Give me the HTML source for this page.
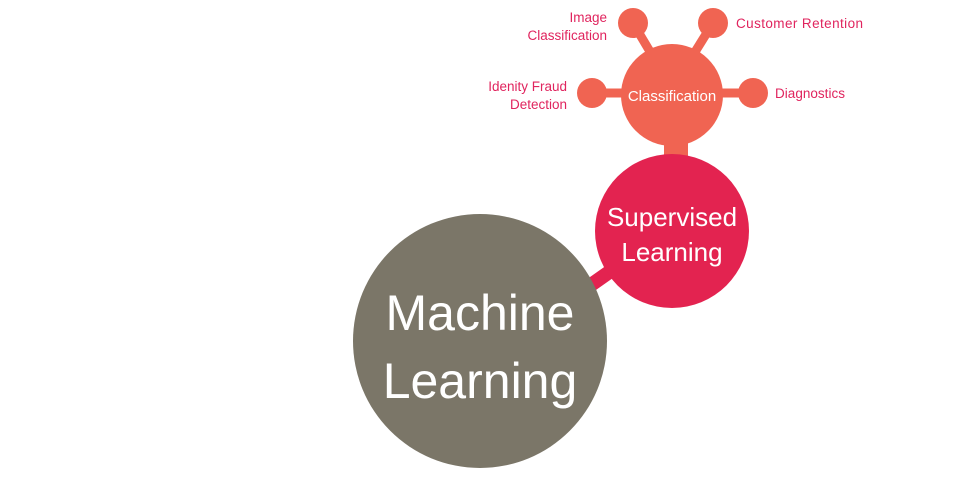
<!DOCTYPE html>
<html><head><meta charset="utf-8"><style>
html,body{margin:0;padding:0;background:#fff;}
svg{display:block;}
text{font-family:"Liberation Sans",sans-serif;}
</style></head><body>
<svg width="960" height="496" viewBox="0 0 960 496" xmlns="http://www.w3.org/2000/svg">
<line x1="588" y1="287" x2="615" y2="268" stroke="#e32350" stroke-width="14"/>
<rect x="664" y="130" width="24" height="30" fill="#f06452"/>
<g stroke="#f06452" stroke-width="9">
<line x1="633" y1="23" x2="655" y2="60"/>
<line x1="713" y1="23" x2="690" y2="60"/>
<line x1="592" y1="93" x2="640" y2="93"/>
<line x1="753" y1="93" x2="705" y2="93"/>
</g>
<g fill="#f06452">
<circle cx="633" cy="23" r="15"/>
<circle cx="713" cy="23" r="15"/>
<circle cx="592" cy="93" r="15"/>
<circle cx="753" cy="93" r="15"/>
<circle cx="672" cy="95" r="51"/>
</g>
<circle cx="672" cy="231" r="77" fill="#e32350"/>
<circle cx="480" cy="341" r="127" fill="#7b7668"/>
<text x="672" y="101" fill="#fff" font-size="15" text-anchor="middle">Classification</text>
<text x="672" y="226" fill="#fff" font-size="26" text-anchor="middle">Supervised</text>
<text x="672" y="261" fill="#fff" font-size="26" text-anchor="middle">Learning</text>
<text x="480" y="330" fill="#fff" font-size="50" text-anchor="middle">Machine</text>
<text x="480" y="398" fill="#fff" font-size="50" text-anchor="middle">Learning</text>
<g fill="#e0245e" font-size="13.5">
<text x="607" y="22" text-anchor="end">Image</text>
<text x="607" y="40" text-anchor="end">Classification</text>
<text x="567" y="91" text-anchor="end">Idenity Fraud</text>
<text x="567" y="109" text-anchor="end">Detection</text>
<text x="736" y="28" textLength="127">Customer Retention</text>
<text x="775" y="98" textLength="70">Diagnostics</text>
</g>
</svg>
</body></html>
